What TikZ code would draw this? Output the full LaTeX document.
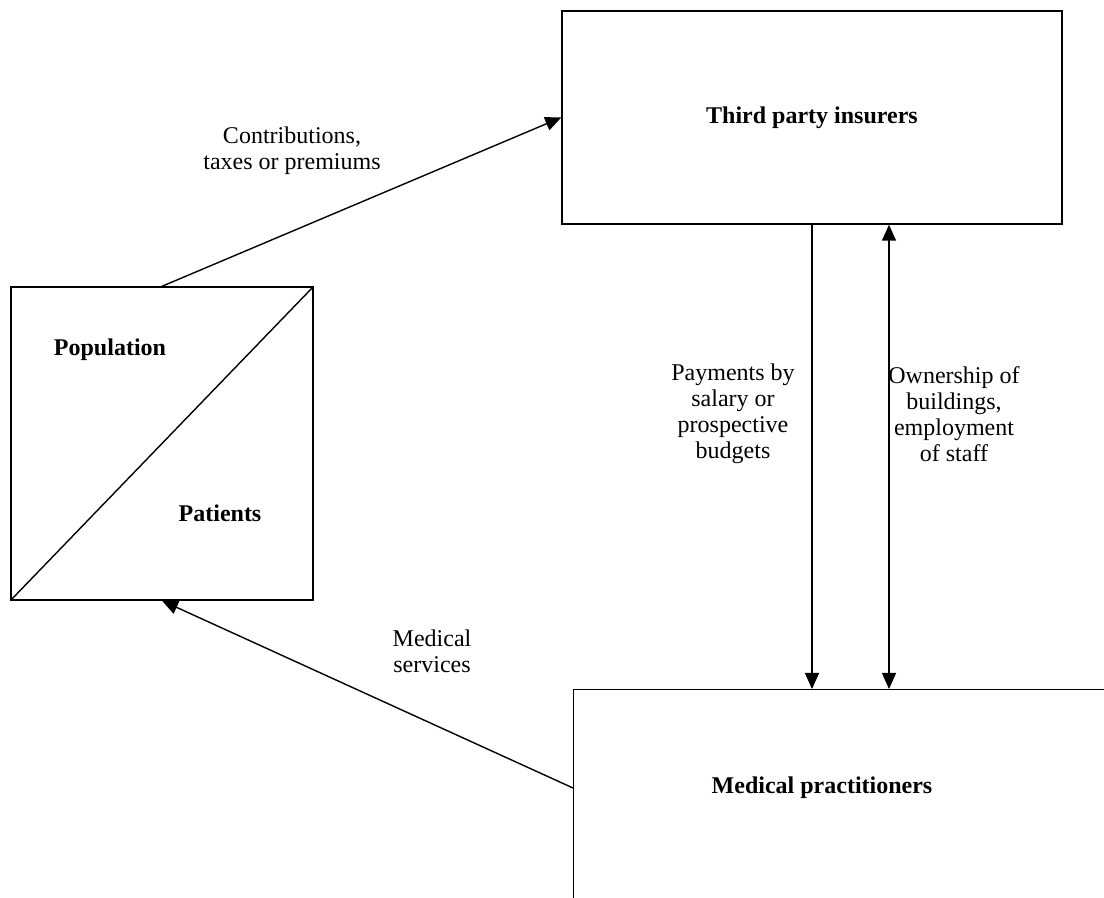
\documentclass[tikz,border=0pt]{standalone}
\usepackage{fontspec}
\setmainfont{Liberation Serif}
\usepackage{tikz}
\usetikzlibrary{arrows.meta, calc}

\begin{document}
\begin{tikzpicture}[x=0.5pt, y=-0.5pt, font=\fontsize{12}{13}\selectfont]
            \useasboundingbox (0,0) rectangle (1104,898);
            \clip (0,0) rectangle (1104,898);

            \begin{scope}[every node/.style={rectangle,draw,line width=0.7pt,inner sep=0pt,font=\fontsize{12}{13}\selectfont\bfseries}]
                \node[minimum width=250pt, minimum height=106.5pt] (ins) at (812,117.5) {Third party insurers};
                \node[minimum width=151pt, minimum height=156.5pt] (pop) at (162,443.5) {};
                \node[minimum width=350pt, minimum height=150pt, anchor=north west] (med) at (573,689) {};
            \end{scope}
            \draw[line width=0.7pt] (pop.south west) -- (pop.north east);

            \begin{scope}[every node/.style={font=\fontsize{12}{13}\selectfont\bfseries}]
                \node (popl) at (110,350) {Population};
                \node (patl) at (220,513) {Patients};
                \node (medl) at (822,788) {Medical practitioners};
            \end{scope}

            \begin{scope}[every node/.style={align=center,inner sep=0pt}]
                \node (contrib) at (292,151) {Contributions,\\taxes or premiums};
                \node (pay) at (733,414) {Payments by\\salary or\\prospective\\budgets};
                \node (own) at (954,414) {Ownership of\\buildings,\\employment\\of staff};
                \node (serv) at (432,651) {Medical\\services};
            \end{scope}

            \path (ins.south) ++(77,0) coordinate (o1);
            \begin{scope}[>={Triangle[length=8pt,width=7pt]},
                          every edge/.style={draw=black, line width=0.7pt}]
                \path[->] (pop.north) edge (ins.west);
                \path[->] (med.west |- medl) edge (pop.south);
                \path[->] (ins.south) edge (ins.south |- med.north);
                \path[<->] (o1) edge (o1 |- med.north);
            \end{scope}

            \end{tikzpicture}
\end{document}
